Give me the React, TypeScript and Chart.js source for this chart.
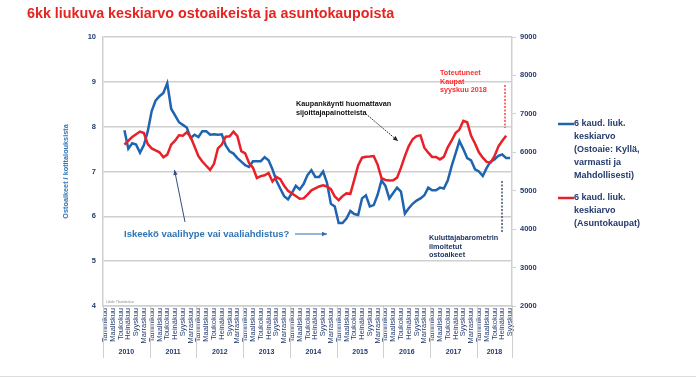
import React, { useEffect, useRef } from "react";
import { Chart, registerables } from "chart.js";

Chart.register(...registerables);

// ---------- DATA ----------
const MONTHS = [
  "Tammikuu", "Helmikuu", "Maaliskuu", "Huhtikuu", "Toukokuu", "Kesäkuu",
  "Heinäkuu", "Elokuu", "Syyskuu", "Lokakuu", "Marraskuu", "Joulukuu",
];
const YEARS = [2010, 2011, 2012, 2013, 2014, 2015, 2016, 2017, 2018];
const LAST_YEAR_MONTHS = 9;

// 6 month moving average of purchase intentions (left axis), from June 2010
const OSTOAIKEET = [
  null, null, null, null, null,
  7.92, 7.51, 7.63, 7.60, 7.42, 7.59, 7.90, 8.35, 8.58, 8.68,
  8.75, 8.97, 8.40, 8.25, 8.10, 8.04, 7.98, 7.75, 7.82, 7.77,
  7.90, 7.90, 7.82, 7.83, 7.82, 7.83, 7.58, 7.45, 7.40, 7.30,
  7.22, 7.14, 7.10, 7.23, 7.23, 7.23, 7.32, 7.25, 7.05, 6.80,
  6.62, 6.45, 6.38, 6.52, 6.68, 6.60, 6.72, 6.92, 7.03, 6.88,
  6.88, 7.00, 6.75, 6.28, 6.22, 5.85, 5.85, 5.95, 6.12, 6.05,
  6.03, 6.40, 6.47, 6.22, 6.25, 6.48, 6.80, 6.68, 6.40, 6.52,
  6.64, 6.55, 6.06, 6.18, 6.28, 6.35, 6.40, 6.47, 6.64, 6.58,
  6.58, 6.64, 6.62, 6.80, 7.12, 7.40, 7.68, 7.50, 7.30, 7.25,
  7.05, 7.00, 6.90, 7.08, 7.22, 7.27, 7.35, 7.38, 7.30, 7.30,
];

// 6 month moving average of housing transactions (right axis)
const ASUNTOKAUPAT = [
  null, null, null, null, null,
  6200, 6300, 6400, 6470, 6540, 6500, 6210, 6100, 6050, 6000,
  5870, 5940, 6200, 6300, 6440, 6430, 6520, 6400, 6150, 5900,
  5760, 5650, 5540, 5700, 6100, 6200, 6404, 6415, 6534, 6420,
  6030, 5971, 5720, 5600, 5330, 5380, 5400, 5460, 5240, 5360,
  5300, 5130, 5000, 4930, 4860, 4790, 4800, 4900, 5010, 5060,
  5110, 5140, 5110, 5040, 4850, 4755, 4860, 4930, 4920, 5280,
  5660, 5860, 5883, 5890, 5900, 5680, 5330, 5280, 5265, 5270,
  5340, 5600, 5900, 6160, 6340, 6422, 6440, 6120, 5990, 5880,
  5880, 5815, 5880, 6130, 6300, 6500, 6590, 6820, 6780, 6430,
  6230, 6000, 5860, 5750, 5730, 5900, 6150, 6300, 6430, null,
];

const LEFT_TICKS = { min: 4, max: 10, step: 1 };
const RIGHT_TICKS = { min: 2000, max: 9000, step: 1000 };

const TITLE = "6kk liukuva keskiarvo ostoaikeista ja asuntokaupoista";
const Y_TITLE = "Ostoaikeet / kotitalouksista";
const LEGEND_BLUE = ["6 kaud. liuk.", "keskiarvo", "(Ostoaie: Kyllä,", "varmasti ja", "Mahdollisesti)"];
const LEGEND_RED = ["6 kaud. liuk.", "keskiarvo", "(Asuntokaupat)"];
const NOTE_TOTEUTUNEET = ["Toteutuneet", "Kaupat", "syyskuu 2018"];
const NOTE_SIJOITTAJA = ["Kaupankäynti huomattavan", "sijoittajapainotteista"];
const NOTE_VAALI = "Iskeekö vaalihype vai vaaliahdistus?";
const NOTE_BAROMETRI = ["Kuluttajabarometrin", "ilmoitetut", "ostoaikeet"];
const SOURCE = "Lähde: Tilastokeskus";

// ---------- STYLE ----------
const FONT = "'Liberation Sans', Arial, sans-serif";
const BLUE = "#1f64b1";
const RED = "#ea2029";
const NAVY = "#243b6e";
const GRID = "#cfcfcf";

const labels: string[] = [];
YEARS.forEach((y, yi) => {
  const n = yi === YEARS.length - 1 ? LAST_YEAR_MONTHS : 12;
  for (let m = 0; m < n; m++) labels.push(MONTHS[m] + " " + y);
});

function arrow(ctx: CanvasRenderingContext2D, x1: number, y1: number, x2: number, y2: number, color: string, dash: number[] = []) {
  ctx.save();
  ctx.strokeStyle = color;
  ctx.fillStyle = color;
  ctx.lineWidth = 1;
  ctx.setLineDash(dash);
  ctx.beginPath();
  ctx.moveTo(x1, y1);
  ctx.lineTo(x2, y2);
  ctx.stroke();
  ctx.setLineDash([]);
  const a = Math.atan2(y2 - y1, x2 - x1);
  const L = 5, W = 2.2;
  ctx.beginPath();
  ctx.moveTo(x2, y2);
  ctx.lineTo(x2 - L * Math.cos(a) + W * Math.sin(a), y2 - L * Math.sin(a) - W * Math.cos(a));
  ctx.lineTo(x2 - L * Math.cos(a) - W * Math.sin(a), y2 - L * Math.sin(a) + W * Math.cos(a));
  ctx.closePath();
  ctx.fill();
  ctx.restore();
}

const decorPlugin = {
  id: "decor",
  afterDraw(chart: any) {
    const ctx: CanvasRenderingContext2D = chart.ctx;
    const ca = chart.chartArea;
    const n = labels.length;
    const w = (ca.right - ca.left) / n;
    ctx.save();

    // Title
    ctx.fillStyle = "#e52521";
    ctx.font = `bold 14.3px ${FONT}`;
    ctx.textAlign = "left";
    ctx.textBaseline = "alphabetic";
    ctx.fillText(TITLE, 27, 18);

    // Y axis title
    ctx.save();
    ctx.translate(66, (ca.top + ca.bottom) / 2);
    ctx.rotate(-Math.PI / 2);
    ctx.fillStyle = "#2e75b6";
    ctx.font = `bold 7.3px ${FONT}`;
    ctx.textAlign = "center";
    ctx.textBaseline = "middle";
    ctx.fillText(Y_TITLE, 0, 0);
    ctx.restore();

    // Year separators and year labels
    ctx.strokeStyle = GRID;
    ctx.lineWidth = 1;
    let idx = 0;
    const bounds: number[] = [0];
    YEARS.forEach((y, yi) => {
      idx += yi === YEARS.length - 1 ? LAST_YEAR_MONTHS : 12;
      bounds.push(idx);
    });
    bounds.forEach((b) => {
      const x = Math.round(ca.left + b * w) + 0.5;
      ctx.beginPath();
      ctx.moveTo(x, ca.bottom);
      ctx.lineTo(x, ca.bottom + 52);
      ctx.stroke();
    });
    ctx.fillStyle = NAVY;
    ctx.font = `bold 7px ${FONT}`;
    ctx.textAlign = "center";
    ctx.textBaseline = "middle";
    YEARS.forEach((y, yi) => {
      const x = ca.left + ((bounds[yi] + bounds[yi + 1]) / 2) * w;
      ctx.fillText(String(y), x, ca.bottom + 46);
    });

    // Source
    ctx.fillStyle = "#8a8a8a";
    ctx.font = `3px ${FONT}`;
    ctx.textAlign = "left";
    ctx.fillText(SOURCE, ca.left + 3, ca.bottom - 4);

    // Legend
    const drawLegend = (lines: string[], color: string, y0: number) => {
      ctx.strokeStyle = color;
      ctx.lineWidth = 2.5;
      ctx.beginPath();
      ctx.moveTo(558, y0);
      ctx.lineTo(574, y0);
      ctx.stroke();
      ctx.fillStyle = NAVY;
      ctx.font = `bold 9px ${FONT}`;
      ctx.textAlign = "left";
      ctx.textBaseline = "middle";
      lines.forEach((t, i) => ctx.fillText(t, 574, y0 + i * 13));
    };
    drawLegend(LEGEND_BLUE, BLUE, 124);
    drawLegend(LEGEND_RED, RED, 198);

    // Annotations
    ctx.textAlign = "left";
    ctx.textBaseline = "middle";
    ctx.fillStyle = "#ff2b2b";
    ctx.font = `bold 7.2px ${FONT}`;
    NOTE_TOTEUTUNEET.forEach((t, i) => ctx.fillText(t, 440, 73 + i * 8.7));

    ctx.fillStyle = "#111";
    ctx.font = `bold 7.3px ${FONT}`;
    NOTE_SIJOITTAJA.forEach((t, i) => ctx.fillText(t, 296, 104 + i * 9));
    arrow(ctx, 366, 114, 398, 141, "#222", [1.5, 1]);

    ctx.fillStyle = "#2e74b5";
    ctx.font = `bold 9.5px ${FONT}`;
    ctx.fillText(NOTE_VAALI, 124, 234);
    arrow(ctx, 185, 222, 174.5, 170, "#2f4f80");
    arrow(ctx, 295, 234, 327, 234, "#2e6db4");

    ctx.fillStyle = "#203864";
    ctx.font = `bold 7.3px ${FONT}`;
    NOTE_BAROMETRI.forEach((t, i) => ctx.fillText(t, 429, 238 + i * 8.7));

    // Dashed markers
    ctx.lineWidth = 1.5;
    ctx.setLineDash([2, 1.5]);
    ctx.strokeStyle = "#ff4040";
    ctx.beginPath();
    ctx.moveTo(505, 85);
    ctx.lineTo(505, 128);
    ctx.stroke();
    ctx.strokeStyle = "#44546a";
    ctx.beginPath();
    ctx.moveTo(502, 181);
    ctx.lineTo(502, 233);
    ctx.stroke();
    ctx.setLineDash([]);

    // bottom rule
    ctx.strokeStyle = "#dddddd";
    ctx.lineWidth = 1;
    ctx.beginPath();
    ctx.moveTo(0, 376.5);
    ctx.lineTo(696, 376.5);
    ctx.stroke();

    ctx.restore();
  },
};

export default function App() {
  const ref = useRef<HTMLCanvasElement | null>(null);

  useEffect(() => {
    if (!ref.current) return;
    const chart = new Chart(ref.current, {
      type: "line",
      data: {
        labels,
        datasets: [
          {
            label: LEGEND_BLUE.join(" "),
            data: OSTOAIKEET,
            borderColor: BLUE,
            backgroundColor: BLUE,
            borderWidth: 2.5,
            pointRadius: 0,
            tension: 0,
            yAxisID: "y",
            order: 2,
          },
          {
            label: LEGEND_RED.join(" "),
            data: ASUNTOKAUPAT,
            borderColor: RED,
            backgroundColor: RED,
            borderWidth: 2.5,
            pointRadius: 0,
            tension: 0,
            yAxisID: "y1",
            order: 1,
          },
        ],
      },
      options: {
        responsive: false,
        animation: false,
        devicePixelRatio: 1,
        layout: { padding: { top: 37, left: 0, right: 0, bottom: 0 } },
        plugins: {
          legend: { display: false },
          tooltip: { enabled: false },
          title: { display: false },
        },
        scales: {
          x: {
            offset: true,
            grid: { display: false, drawTicks: false },
            border: { display: true, color: GRID, width: 1.5 },
            ticks: {
              autoSkip: false,
              maxRotation: 90,
              minRotation: 90,
              padding: 2,
              color: NAVY,
              font: { size: 7.5, family: FONT },
              callback: (_v: any, i: number) => (i % 2 === 0 ? labels[i].split(" ")[0] : ""),
            },
            afterFit: (s: any) => {
              s.height = 71;
            },
          },
          y: {
            position: "left",
            min: LEFT_TICKS.min,
            max: LEFT_TICKS.max,
            ticks: {
              stepSize: LEFT_TICKS.step,
              padding: 7,
              color: NAVY,
              font: { size: 7.5, weight: "bold", family: FONT },
              callback: (v: any) => String(v),
            },
            grid: { color: GRID, lineWidth: 1.5, drawTicks: false },
            border: { display: true, color: GRID, width: 1.5 },
            afterFit: (s: any) => {
              s.width = 103;
            },
          },
          y1: {
            position: "right",
            min: RIGHT_TICKS.min,
            max: RIGHT_TICKS.max,
            ticks: {
              stepSize: RIGHT_TICKS.step,
              padding: 4,
              color: NAVY,
              font: { size: 7.5, weight: "bold", family: FONT },
              callback: (v: any) => String(v),
            },
            grid: { drawOnChartArea: false, drawTicks: true, tickLength: 4, color: GRID, lineWidth: 1 },
            border: { display: true, color: GRID, width: 1.5 },
            afterFit: (s: any) => {
              s.width = 184;
            },
          },
        },
      },
      plugins: [decorPlugin],
    });
    return () => chart.destroy();
  }, []);

  return (
    <div style={{ position: "fixed", left: 0, top: 0, width: 696, height: 377, background: "#fff" }}>
      <canvas ref={ref} width={696} height={377} style={{ width: 696, height: 377, display: "block" }} />
    </div>
  );
}
